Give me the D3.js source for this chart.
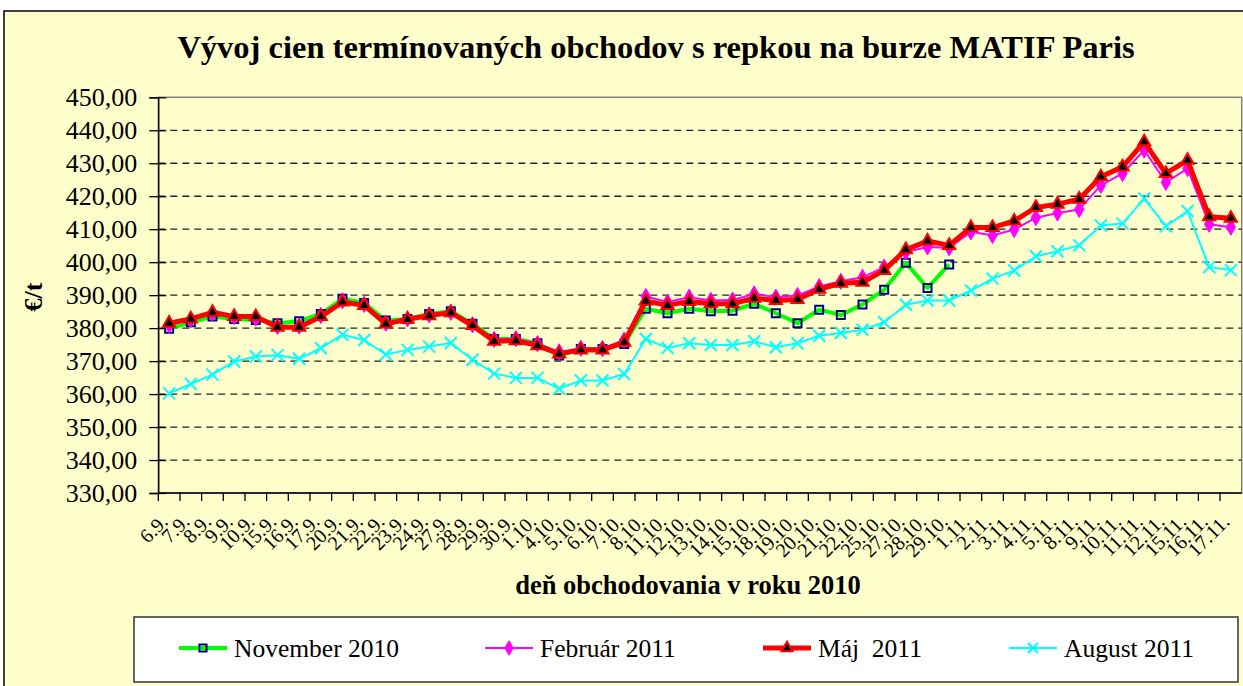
<!DOCTYPE html>
<html>
<head>
<meta charset="utf-8">
<script src="https://cdn.jsdelivr.net/npm/d3@7"></script>
<style>
  body { margin: 0; background: #fff; }
  svg { display: block; }
  text { font-family: "Liberation Serif", "Times New Roman", serif; fill: #000; }
</style>
</head>
<body>
<script>
// trading days (x categories)
let days = ['6.9.', '7.9.', '8.9.', '9.9.', '10.9.', '15.9.', '16.9.', '17.9.', '20.9.', '21.9.', '22.9.', '23.9.', '24.9.', '27.9.', '28.9.', '29.9.', '30.9.',
  '1.10.', '4.10.', '5.10.', '6.10.', '7.10.', '8.10.', '11.10.', '12.10.', '13.10.', '14.10.', '15.10.', '18.10.', '19.10.', '20.10.', '21.10.', '22.10.', '25.10.', '27.10.', '28.10.', '29.10.',
  '1.11.', '2.11.', '3.11.', '4.11.', '5.11.', '8.11.', '9.11.', '10.11.', '11.11.', '12.11.', '15.11.', '16.11.', '17.11.'];

let nov2010 = [379.8, 381.8, 383.5, 382.8, 382.5, 381.5, 382.1, 384.3, 388.9, 387.6, 382.3, 382.8, 384.3, 385.1, 381.3, 376.7, 376.7,
  375.4, 371.7, 373.7, 373.7, 375.2, 385.9, 384.5, 385.9, 385.1, 385.3, 387.4, 384.5, 381.5, 385.6, 384.0, 387.2, 391.6, 399.8, 392.2, 399.3,
  null, null, null, null, null, null, null, null, null, null, null, null, null];
let feb2011 = [381.0, 382.6, 384.5, 383.5, 383.0, 380.5, 380.6, 383.8, 388.3, 387.2, 381.5, 382.8, 384.0, 384.8, 381.0, 376.6, 376.8,
  375.3, 372.8, 373.9, 373.8, 376.4, 389.6, 387.9, 389.4, 388.4, 388.5, 390.4, 389.4, 389.9, 392.6, 394.2, 395.4, 398.5, 403.1, 404.6, 404.4,
  409.2, 408.1, 409.9, 413.5, 414.9, 416.0, 423.3, 426.9, 434.0, 424.2, 428.4, 411.5, 410.6];
let maj2011 = [381.5, 382.8, 384.8, 383.5, 383.5, 380.3, 380.3, 383.5, 387.9, 386.9, 381.3, 382.7, 383.8, 384.7, 380.8, 376.0, 376.2,
  374.7, 372.2, 373.4, 373.4, 375.7, 388.2, 386.9, 388.1, 387.4, 387.4, 389.1, 388.4, 388.7, 391.8, 393.6, 393.9, 397.5, 403.8, 406.4, 405.1,
  410.5, 410.5, 412.5, 416.6, 417.6, 419.1, 425.9, 428.9, 436.5, 426.9, 430.9, 413.8, 413.3];
let aug2011 = [360.2, 363.1, 365.9, 369.9, 371.4, 371.8, 370.7, 373.9, 378.0, 376.4, 372.0, 373.4, 374.4, 375.5, 370.4, 366.2, 364.9,
  364.9, 361.6, 364.1, 364.1, 366.1, 376.7, 374.0, 375.4, 374.9, 374.9, 376.0, 374.2, 375.4, 377.7, 378.5, 379.5, 381.8, 387.1, 388.4, 388.4,
  391.4, 395.0, 397.5, 401.8, 403.3, 405.1, 411.1, 411.7, 419.3, 410.9, 415.5, 398.5, 397.6];

let yTicks = [330, 340, 350, 360, 370, 380, 390, 400, 410, 420, 430, 440, 450];
let seriesNames = ['November 2010', 'Február 2011', 'Máj  2011', 'August 2011'];

let width = 1243, height = 686;
let plotLeft = 158.3, plotRight = 1241.7, plotTop = 97.3, plotBottom = 493;
let serif = '"Liberation Serif", "Times New Roman", serif';

let svg = d3.select('body').append('svg')
  .attr('width', width)
  .attr('height', height);

// chart area
svg.append('rect')
  .attr('x', 4).attr('y', 11)
  .attr('width', 1260).attr('height', 700)
  .attr('fill', '#FFFFCC')
  .attr('stroke', '#000').attr('stroke-width', 1.5);

let xScale = d3.scaleBand().domain(days).range([plotLeft, plotRight]).padding(0);
let yScale = d3.scaleLinear().domain([330, 450]).range([plotBottom, plotTop]);
let cx = d => xScale(d) + xScale.bandwidth() / 2;

// plot border (top / right)
svg.append('rect')
  .attr('x', plotLeft).attr('y', plotTop)
  .attr('width', plotRight - plotLeft).attr('height', plotBottom - plotTop)
  .attr('fill', 'none')
  .attr('stroke', '#808080').attr('stroke-width', 1.5);

// dashed grid
svg.append('g')
  .selectAll('line')
  .data(yTicks.filter(v => v > 330 && v < 450))
  .enter().append('line')
  .attr('x1', plotLeft).attr('x2', plotRight)
  .attr('y1', d => yScale(d)).attr('y2', d => yScale(d))
  .attr('stroke', '#222').attr('stroke-width', 1.3)
  .attr('stroke-dasharray', '7,5');

// y axis
let yAxis = d3.axisLeft(yScale).tickValues(yTicks).tickSize(9).tickPadding(12)
  .tickFormat(d => d3.format('.2f')(d).replace('.', ','));
let gy = svg.append('g')
  .attr('transform', 'translate(' + plotLeft + ',0)')
  .call(yAxis)
  .attr('font-family', serif)
  .attr('font-size', 26);
gy.selectAll('text').style('font-family', serif).style('font-size', '26px');
gy.selectAll('line, path').attr('stroke', '#000').attr('stroke-width', 1.3);
svg.append('g')
  .attr('transform', 'translate(' + plotLeft + ',0)')
  .call(d3.axisLeft(yScale).tickValues(yTicks).tickSize(-8).tickFormat(''))
  .call(g => g.select('.domain').remove())
  .selectAll('line').attr('stroke', '#000').attr('stroke-width', 1.3);

// x axis
svg.append('line')
  .attr('x1', plotLeft).attr('x2', plotRight)
  .attr('y1', plotBottom).attr('y2', plotBottom)
  .attr('stroke', '#000').attr('stroke-width', 1.5);
svg.append('g')
  .selectAll('line')
  .data(days)
  .enter().append('line')
  .attr('x1', d => xScale(d)).attr('x2', d => xScale(d))
  .attr('y1', plotBottom).attr('y2', plotBottom + 8)
  .attr('stroke', '#000').attr('stroke-width', 1.3);
svg.append('g')
  .selectAll('text')
  .data(days)
  .enter().append('text')
  .attr('transform', d => 'translate(' + (cx(d) - 5) + ',' + (plotBottom + 25) + ') rotate(-45)')
  .attr('text-anchor', 'end')
  .attr('dy', '0.35em')
  .style('font-size', '20px')
  .text(d => d);

// titles
svg.append('text')
  .attr('x', 656).attr('y', 58)
  .attr('text-anchor', 'middle')
  .style('font-size', '32.5px').style('font-weight', 'bold')
  .text('Vývoj cien termínovaných obchodov s repkou na burze MATIF Paris');
svg.append('text')
  .attr('x', 688).attr('y', 594)
  .attr('text-anchor', 'middle')
  .style('font-size', '26.5px').style('font-weight', 'bold')
  .text('deň obchodovania v roku 2010');
svg.append('text')
  .attr('transform', 'translate(42,297) rotate(-90)')
  .attr('text-anchor', 'middle')
  .style('font-size', '26px').style('font-weight', 'bold')
  .text('€/t');

// series
let styles = [
  { data: nov2010, line: '#00FF00', lw: 4, sym: d3.symbolSquare, size: 64, fill: 'none', stroke: '#000080', sw: 2 },
  { data: feb2011, line: '#FF00FF', lw: 2, sym: d3.symbolDiamond, size: 75, fill: '#FF00FF', stroke: '#FF00FF', sw: 1 },
  { data: maj2011, line: '#FF0000', lw: 5, sym: d3.symbolTriangle, size: 65, fill: '#000', stroke: '#FF0000', sw: 2 },
  { data: aug2011, line: '#00FFFF', lw: 2, sym: null, size: 0, fill: 'none', stroke: '#00FFFF', sw: 2 }
];

let lineGen = d3.line()
  .defined(d => d.v != null)
  .x(d => cx(d.day))
  .y(d => yScale(d.v));

styles.forEach(s => {
  let pts = days.map((day, i) => ({ day: day, v: s.data[i] }));
  let g = svg.append('g');
  g.append('path')
    .attr('d', lineGen(pts))
    .attr('fill', 'none')
    .attr('stroke', s.line)
    .attr('stroke-width', s.lw)
    .attr('stroke-linejoin', 'round');
  let marks = g.selectAll('path.mk')
    .data(pts.filter(p => p.v != null))
    .enter().append('path')
    .attr('class', 'mk')
    .attr('transform', p => 'translate(' + cx(p.day) + ',' + yScale(p.v) + ')')
    .attr('fill', s.fill)
    .attr('stroke', s.stroke)
    .attr('stroke-width', s.sw);
  if (s.sym) marks.attr('d', d3.symbol().type(s.sym).size(s.size));
  else marks.attr('d', 'M-6,-6L6,6M-6,6L6,-6');
});

// legend
svg.append('rect')
  .attr('x', 134).attr('y', 617)
  .attr('width', 1104).attr('height', 65)
  .attr('fill', '#fff')
  .attr('stroke', '#333').attr('stroke-width', 1.5);

let legendX = [179, 485, 763, 1009];
styles.forEach((s, i) => {
  let g = svg.append('g').attr('transform', 'translate(' + legendX[i] + ',648)');
  g.append('line')
    .attr('x1', 0).attr('x2', 48)
    .attr('stroke', s.line).attr('stroke-width', s.lw);
  let m = g.append('path')
    .attr('transform', 'translate(24,0)')
    .attr('fill', s.fill).attr('stroke', s.stroke).attr('stroke-width', s.sw);
  if (s.sym) m.attr('d', d3.symbol().type(s.sym).size(s.size * 0.8));
  else m.attr('d', 'M-5,-5L5,5M-5,5L5,-5');
  g.append('text')
    .attr('x', 55).attr('dy', '0.35em')
    .style('font-size', '25.5px')
    .style('white-space', 'pre')
    .attr('xml:space', 'preserve')
    .text(seriesNames[i]);
});
</script>
</body>
</html>
